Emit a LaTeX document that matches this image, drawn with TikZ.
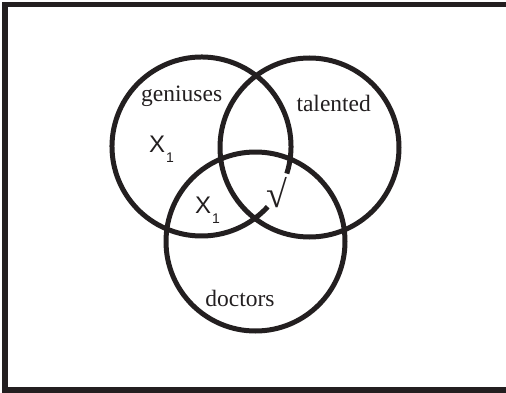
\documentclass[tikz,border=0pt]{standalone}
\usepackage{fontspec}
\setmainfont{Liberation Serif}
\newfontfamily\markfont{Liberation Sans}
\usetikzlibrary{positioning}
\definecolor{Ink}{HTML}{231F20}
\newcommand{\Xone}{X\raisebox{-10pt}{\fontsize{14}{14}\selectfont\kern1pt 1}}
\tikzset{
    setring/.style={draw=Ink, line width=5pt},
    setlabel/.style={inner sep=0pt, text=Ink, anchor=base, font=\fontsize{23.5}{26}\selectfont},
    memberlabel/.style={inner sep=0pt, text=Ink, anchor=base west, font=\markfont\fontsize{24}{26}\selectfont},
}

\begin{document}
\begin{tikzpicture}[x=1pt, y=1pt]
                \useasboundingbox (0,0) rectangle (506,392);

                % --- Cornice ---
                \draw[Ink, line width=5.5pt] (506,387.5) -- (5,387.5) -- (5,2) -- (506,2);

                % --- Centri degli insiemi ---
                \coordinate (gen) at (201.5,245.5);
                \coordinate (tal) at (309.5,244.5);
                \coordinate (doc) at (255.5,150.5);

                % Cerchi (geniuses interrotto dove sta il segno)
                \draw[setring] (gen) ++(-17.6:89.5) arc[start angle=-17.6, end angle=317.7, radius=89.5];
                \draw[setring] (tal) circle (89.5);
                \draw[setring] (doc) circle (89.5);

                % Nomi degli insiemi
                \node[setlabel] (geniuses) at (181.7,290.3) {geniuses};
                \node[setlabel] (talented) at (333.7,280.3) {talented};
                \node[setlabel] (doctors) at (240,85.3) {doctors};

                % Segni
                \node[memberlabel] (xone) at (149,239.7) {\Xone};
                \node[memberlabel] (xtwo) at (195,178.7) {\Xone};
                \node[inner sep=0pt, text=Ink, font=\fontsize{38}{40}\selectfont] (check) at (277,199) {√};

            \end{tikzpicture}
\end{document}
